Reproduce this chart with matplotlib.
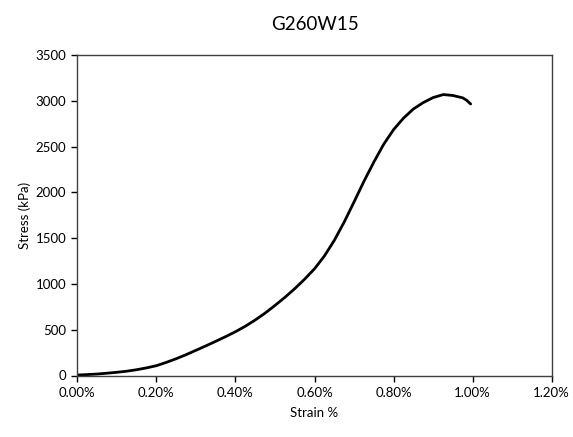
import matplotlib
matplotlib.use("Agg")
import matplotlib.pyplot as plt
from matplotlib.ticker import FuncFormatter, MultipleLocator

strain_pct = [0.000, 0.025, 0.050, 0.075, 0.100, 0.125, 0.150, 0.175, 0.200, 0.225,
              0.250, 0.275, 0.300, 0.325, 0.350, 0.375, 0.400, 0.425, 0.450, 0.475,
              0.500, 0.525, 0.550, 0.575, 0.600, 0.625, 0.650, 0.675, 0.700, 0.725,
              0.750, 0.775, 0.800, 0.825, 0.850, 0.875, 0.900, 0.926, 0.950, 0.975,
              0.985, 0.995]
stress_kpa = [5, 10, 16, 25, 35, 47, 63, 83, 107, 143,
              183, 227, 275, 323, 373, 424, 478, 538, 606, 681,
              765, 853, 948, 1052, 1165, 1305, 1475, 1675, 1895, 2120,
              2330, 2525, 2685, 2810, 2910, 2980, 3035, 3068, 3058, 3032,
              3005, 2965]

plt.rcParams['font.family'] = ['Lato', 'DejaVu Sans']
fig = plt.figure(figsize=(5.73, 4.37), dpi=100)
ax = fig.add_axes([77.3 / 573, 1 - 375.5 / 437, (551.7 - 77.3) / 573, (375.5 - 55) / 437])
ax.plot(strain_pct, stress_kpa, color='black', lw=2.0, solid_capstyle='round',
        solid_joinstyle='round')
ax.set_xlim(0, 1.2)
ax.set_ylim(0, 3500)
ax.xaxis.set_major_locator(MultipleLocator(0.2))
ax.yaxis.set_major_locator(MultipleLocator(500))
ax.xaxis.set_major_formatter(FuncFormatter(lambda v, p: f"{v:.2f}%"))
ax.tick_params(direction='out', length=4, width=1, labelsize=9.5, colors='black',
               pad=4)
for s in ax.spines.values():
    s.set_color('#404040')
    s.set_linewidth(1.0)
ax.set_title('G260W15', fontsize=13.5, pad=18)
ax.set_xlabel('Strain %', fontsize=9.5, labelpad=6)
ax.set_ylabel('Stress (kPa)', fontsize=9.5, labelpad=3)
fig.savefig('out.png', dpi=100)
